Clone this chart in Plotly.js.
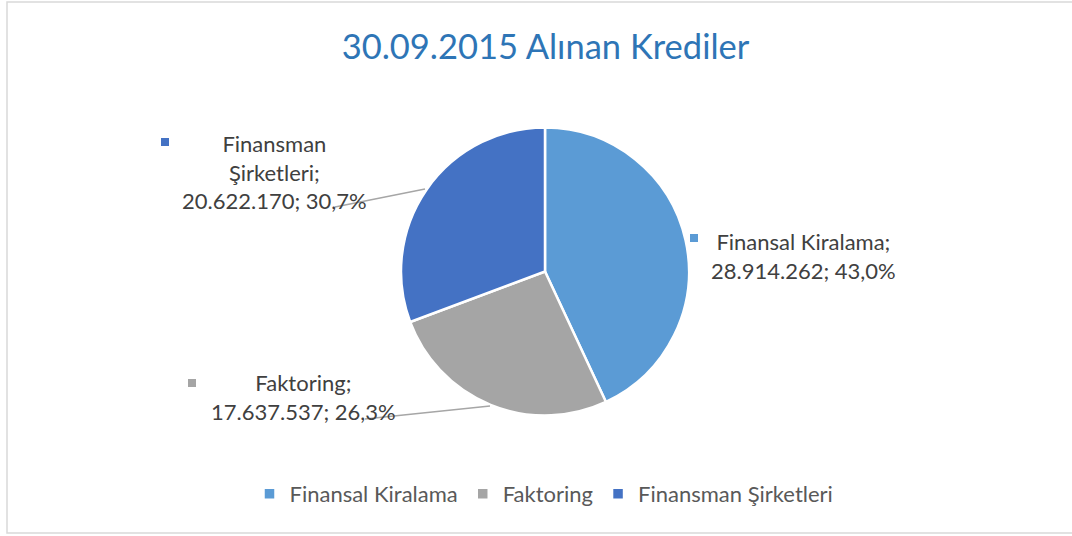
<!DOCTYPE html>
<html>
<head>
<meta charset="utf-8">
<script src="https://cdn.plot.ly/plotly-3.0.1.min.js"></script>
<style>html,body{margin:0;padding:0;background:#fff;}#chart{width:1072px;height:536px;}</style>
</head>
<body>
<div id="chart"></div>
<script>
const categories = ["Finansal Kiralama", "Faktoring", "Finansman Şirketleri"];
const labelLines = ["Finansal Kiralama;", "Faktoring;", "Finansman<br>Şirketleri;"];
const values = [28914262, 17637537, 20622170];
const colors = ["#5B9BD5", "#A5A5A5", "#4472C4"];
const titleText = "30.09.2015 Alınan Krediler";

const W = 1072, H = 536;
const FONT = "Lato, 'Open Sans', sans-serif";
const px = x => x / W;
const py = y => 1 - y / H;

const total = values.reduce((a, b) => a + b, 0);
function fmtNum(v) { return String(v).replace(/\B(?=(\d{3})+(?!\d))/g, "."); }
function fmtPct(v) { return (v / total * 100).toFixed(1).replace(".", ",") + "%"; }

// label placement (layout only)
const labelPos = [
  {x: 803, y: 256, sq: [694, 238]},
  {x: 303, y: 397, sq: [192, 383]},
  {x: 274, y: 172, sq: [165, 142]}
];
const leaders = [null, [365, 419, 490, 406], [335, 207, 425, 189]];

const annotations = [];
const shapes = [];
categories.forEach((c, i) => {
  const p = labelPos[i];
  annotations.push({
    xref: "paper", yref: "paper", x: px(p.x), y: py(p.y),
    xanchor: "center", yanchor: "middle", showarrow: false, align: "center",
    text: labelLines[i] + "<br>" + fmtNum(values[i]) + "; " + fmtPct(values[i]),
    font: {family: FONT, size: 22, color: "#404040"}
  });
  shapes.push({
    type: "rect", xref: "paper", yref: "paper",
    x0: px(p.sq[0] - 4), x1: px(p.sq[0] + 4), y0: py(p.sq[1] - 4), y1: py(p.sq[1] + 4),
    fillcolor: colors[i], line: {width: 0}
  });
  if (leaders[i]) {
    const l = leaders[i];
    shapes.push({
      type: "line", xref: "paper", yref: "paper",
      x0: px(l[0]), y0: py(l[1]), x1: px(l[2]), y1: py(l[3]),
      line: {color: "#A6A6A6", width: 1.5}
    });
  }
});
// chart frame
shapes.push({
  type: "rect", xref: "paper", yref: "paper",
  x0: px(7), x1: px(1080), y0: py(533), y1: py(2),
  line: {color: "#D9D9D9", width: 1.5}, fillcolor: "rgba(0,0,0,0)", layer: "below"
});

const data = [{
  type: "pie",
  labels: categories,
  values: values,
  sort: false,
  direction: "clockwise",
  rotation: 0,
  textinfo: "none",
  hoverinfo: "label+value+percent",
  marker: {colors: colors, line: {color: "#FFFFFF", width: 2.5}},
  domain: {x: [px(401), px(689)], y: [py(416), py(127)]}
}];

const layout = {
  width: W, height: H,
  margin: {l: 0, r: 0, t: 0, b: 0},
  paper_bgcolor: "#FFFFFF",
  font: {family: FONT, color: "#404040"},
  title: {
    text: titleText, xref: "paper", yref: "paper",
    x: px(545.5), xanchor: "center", y: py(47), yanchor: "middle",
    font: {family: FONT, size: 34.5, color: "#2E75B6"}
  },
  showlegend: true,
  legend: {
    orientation: "h", x: px(544), xanchor: "center", y: py(494), yanchor: "middle",
    font: {family: FONT, size: 22, color: "#595959"}
  },
  annotations: annotations,
  shapes: shapes
};

Plotly.newPlot("chart", data, layout, {displayModeBar: false, staticPlot: true});
</script>
</body>
</html>
